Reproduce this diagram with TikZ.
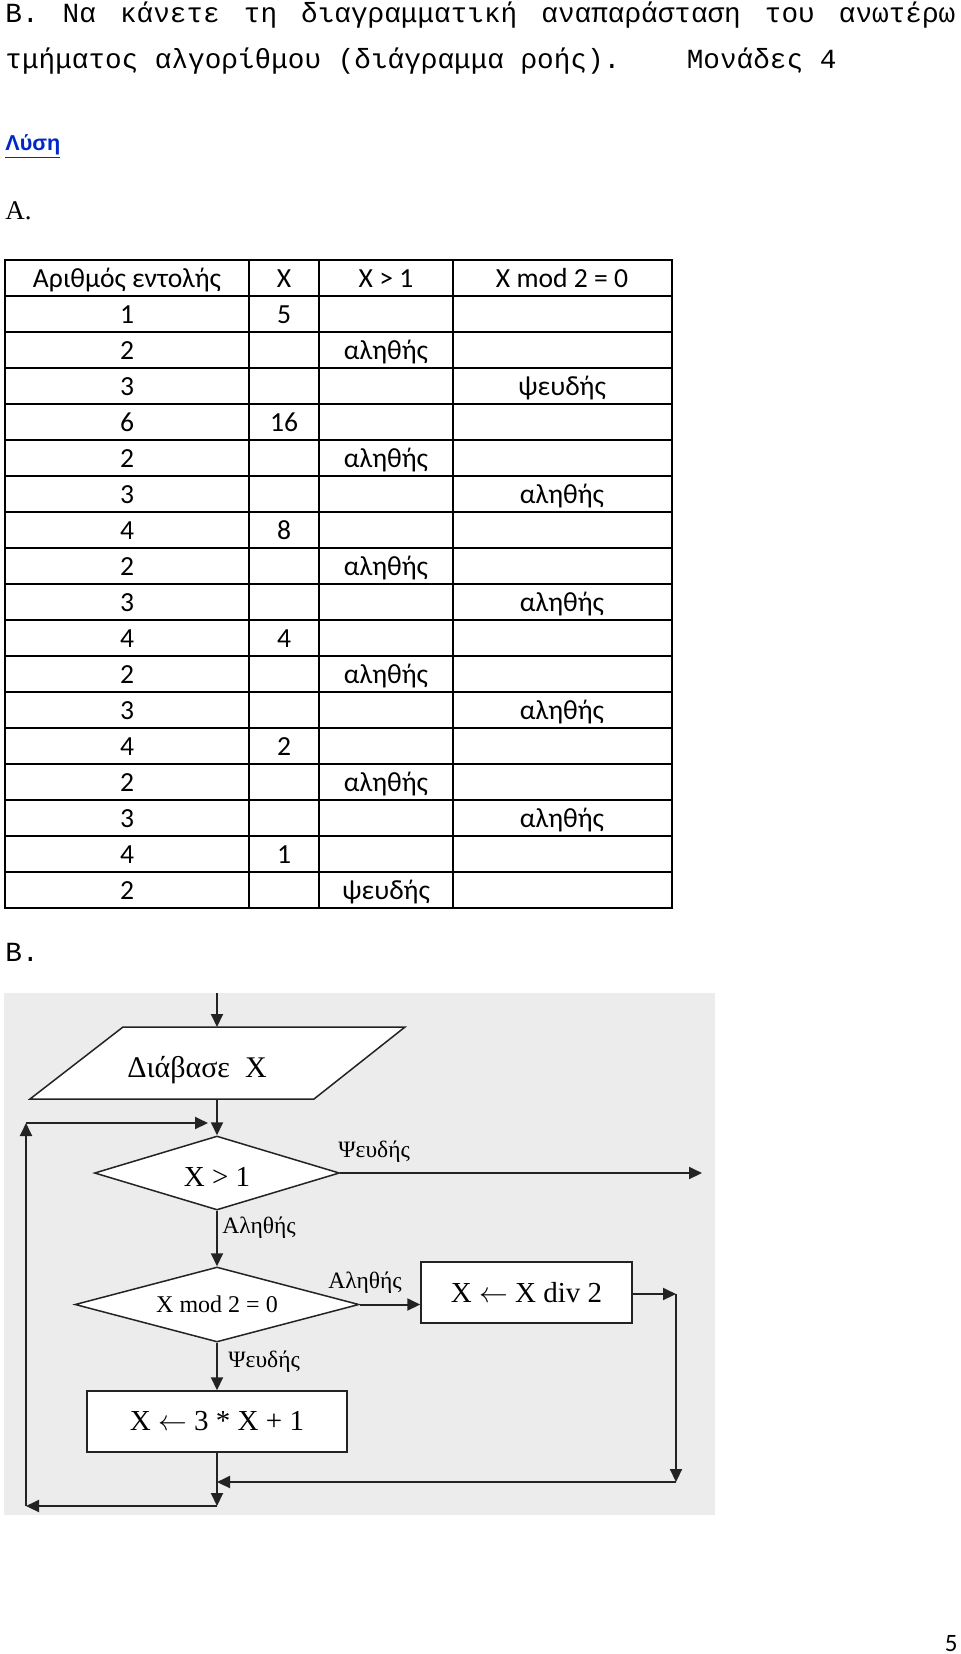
\documentclass[tikz,border=0pt]{standalone}
\usepackage{fontspec}
\setmainfont{Liberation Serif}
\newfontfamily\courierfam{Liberation Mono}
\newfontfamily\calibrifam{Carlito}
\newfontfamily\arialfam{Liberation Sans}
\usetikzlibrary{arrows.meta,shapes.geometric}

\definecolor{linkblue}{RGB}{0,40,200}
\definecolor{chartbg}{RGB}{236,236,236}
\definecolor{chartline}{RGB}{35,35,35}

\tikzset{
  mono/.style={anchor=base west, inner sep=0pt, font=\courierfam\fontsize{13.85}{16}\selectfont},
  cell/.style={anchor=base, inner sep=0pt, font=\calibrifam\fontsize{13.8}{16}\selectfont},
  tabline/.style={line width=1.1pt, line cap=rect},
  shapeline/.style={draw=chartline, fill=white, line width=0.75pt},
  decision/.style={diamond, shapeline, inner sep=0pt},
  process/.style={rectangle, shapeline, inner sep=0pt, minimum height=30.5pt,
    font=\fontsize{14.5}{16}\selectfont},
  lbl/.style={anchor=base west, inner sep=0pt, font=\fontsize{11.75}{14}\selectfont},
  arr/.style={draw=chartline, line width=1pt, -{Triangle[length=6.5pt,width=6pt]}}
}

\begin{document}
\begin{tikzpicture}[x=0.5pt, y=-0.5pt]

        % Page
        \useasboundingbox (0,0) rectangle (960,1654);
        \fill[white] (0,0) rectangle (960,1654);

        % Question text
        \node[mono] (q1) at (5,22) {\makebox[475pt][l]{B.\hfill Να\hfill κάνετε\hfill τη\hfill διαγραμματική\hfill αναπαράσταση\hfill του\hfill ανωτέρω}};
        \node[mono] (q2) at (5,68) {τμήματος αλγορίθμου (διάγραμμα ροής).\ \ \ \ Μονάδες 4};

        \node[anchor=base west, inner sep=0pt, text=linkblue,
              font=\arialfam\bfseries\fontsize{10.8}{12}\selectfont] (sol) at (5,150) {\underline{Λύση}};
        \node[anchor=base west, inner sep=0pt, font=\fontsize{13.5}{16}\selectfont] (partA) at (5,219) {A.};

        % Table grid
        \foreach \x in {5,249,319,453,672}
            \draw[tabline] (\x,260) -- (\x,908);
        \foreach \k in {0,...,18}
            \draw[tabline] (5,{260+36*\k}) -- (672,{260+36*\k});

        % Table header
        \node[cell] (h1) at (127,287) {Αριθμός εντολής};
        \node[cell] (h2) at (284,287) {X};
        \node[cell] (h3) at (386,287) {X > 1};
        \node[cell] (h4) at (562,287) {X mod 2 = 0};

        % Table rows
        \foreach \t [count=\r] in {1,2,3,6,2,3,4,2,3,4,2,3,4,2,3,4,2}
            \node[cell] (a\r) at (127,{287+36*\r}) {\t};
        \foreach \r/\t in {1/5,4/16,7/8,10/4,13/2,16/1}
            \node[cell] (b\r) at (284,{287+36*\r}) {\t};
        \foreach \r/\t in {2/αληθής,5/αληθής,8/αληθής,11/αληθής,14/αληθής,17/ψευδής}
            \node[cell] (c\r) at (386,{287+36*\r}) {\t};
        \foreach \r/\t in {3/ψευδής,6/αληθής,9/αληθής,12/αληθής,15/αληθής}
            \node[cell] (d\r) at (562,{287+36*\r}) {\t};

        \node[mono] (partB) at (5,961) {B.};

        % Flowchart background
        \fill[chartbg] (4,993) rectangle (715,1515);

        % Input parallelogram
        \coordinate (readn) at (217,1027);
        \coordinate (reads) at (217,1099);
        \draw[shapeline] (30,1099) -- (314,1099) -- (405,1027) -- (123,1027) -- cycle;
        \node[anchor=base, inner sep=0pt, font=\fontsize{15}{18}\selectfont] (read) at (197,1077) {Διάβασε\ \ X};

        % Decisions and processes
        \node[decision, aspect=3.3, minimum width=122.5pt, minimum height=37pt,
              text height=13.6pt, text depth=0pt,
              font=\fontsize{14.5}{16}\selectfont] (gt) at (217,1173) {X > 1};
        \node[decision, aspect=3.8, minimum width=142pt, minimum height=37.5pt,
              font=\fontsize{12}{14}\selectfont] (mod) at (217,1304.5) {X mod 2 = 0};
        \node[process, minimum width=105.5pt] (half) at (526.5,1292.5) {X $\leftarrow$ X div 2};
        \node[process, minimum width=130pt] (triple) at (217,1421.5) {X $\leftarrow$ 3 * X + 1};

        % Branch labels
        \node[lbl] (gtno) at (338,1157) {Ψευδής};
        \node[lbl] (gtyes) at (222,1233.5) {Αληθής};
        \node[lbl] (modyes) at (328,1288.5) {Αληθής};
        \node[lbl] (modno) at (228,1367) {Ψευδής};

        % Free ends and corners
        \coordinate (start) at (217,993);
        \coordinate (exit) at (702,1173);
        \coordinate (rtop) at (676,1294);
        \coordinate (rbot) at (676,1482);
        \coordinate (join) at (217,1482);
        \coordinate (lowc) at (217,1506);
        \coordinate (lowl) at (26,1506);
        \coordinate (upl) at (26,1123);
        \coordinate (upr) at (208,1123);

        % Connectors
        \draw[arr] (start) -- (readn);
        \draw[arr] (reads) -- (gt.north);
        \draw[arr] (gt.east) -- (exit);
        \draw[arr] (gt.south) -- (mod.north);
        \draw[arr] (mod.east) -- (mod.east -| half.west);
        \draw[arr] (mod.south) -- (triple.north);
        \draw[arr] (half.east |- rtop) -- (rtop);
        \draw[arr] (rtop) -- (rbot);
        \draw[arr] (rbot) -- (join);
        \draw[arr] (triple.south) -- (lowc);
        \draw[arr] (lowc) -- (lowl);
        \draw[arr] (lowl) -- (upl);
        \draw[arr] (upl) -- (upr);

        % Page number
        \node[anchor=base east, inner sep=0pt, font=\calibrifam\fontsize{12.5}{14}\selectfont] (page) at (958,1651) {5};

    \end{tikzpicture}
\end{document}
